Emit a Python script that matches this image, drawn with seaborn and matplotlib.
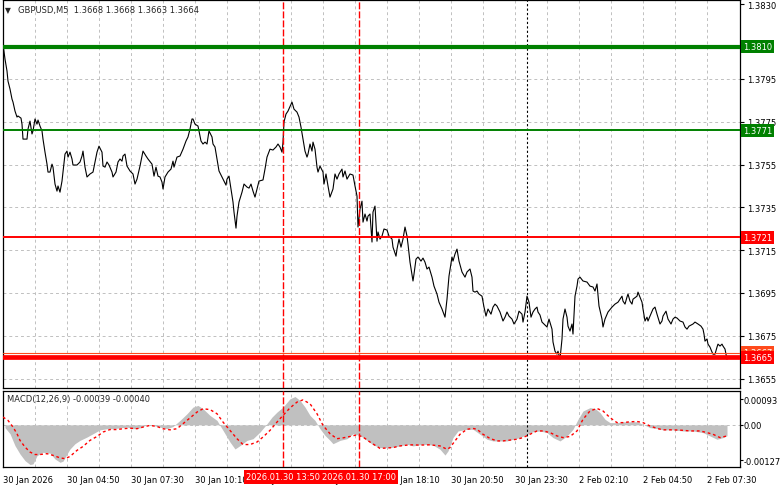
import matplotlib
matplotlib.use("Agg")
import matplotlib.pyplot as plt
import matplotlib.transforms as mtransforms
import seaborn as sns

# GBPUSD M5 closes, x = bar number counted from the first bar (30 Jan 02:10)
bar = [0, 1, 2, 2.5, 3.5, 4.5, 5, 6, 7, 7.5, 9, 9.5, 10, 12, 12.5, 13.5, 14.5, 15, 16, 17,
       17.5, 18.5, 19.5, 20, 21, 22, 22.5, 23.5, 24.5, 25, 26, 27, 27.5, 28.5, 29.5, 30, 31, 32,
       32.5, 33.5, 34.5, 35, 37, 38.5, 39.5, 40, 41, 42, 43.5, 45, 46, 47, 48, 49.5, 50, 51, 52,
       53, 54.5, 55, 56.5, 57.5, 58.5, 59.5, 60, 61, 62, 63.5, 65, 66, 67, 68.5, 70, 71.5, 72.5,
       74.5, 75.5, 76.5, 77.5, 78.5, 79.5, 80, 81, 82.5, 84, 85, 85.5, 87, 88.5, 90, 91.5, 92.5,
       93.5, 94.5, 95, 96, 97.5, 99, 100, 101, 102, 103, 104.5, 105, 106, 107, 108, 109.5, 110.5,
       111.5, 112, 113, 114, 115, 115.5, 116.5, 117, 118, 119.5, 120.5, 122, 123, 124, 125, 126,
       127, 128, 130, 131, 132, 133.5, 135, 136.5, 137.5, 138.5, 139.5, 140, 140.5, 141.5, 142.5,
       144.5, 145.5, 147, 148, 149, 150, 151, 152, 152.5, 153.5, 154.5, 155, 156, 157, 157.5,
       158.5, 160, 160.5, 161.5, 162.5, 163.5, 165, 166, 167, 168, 169.5, 170, 171, 172, 173.5,
       175, 176, 177, 177.5, 178.5, 179.5, 180, 181, 182, 182.5, 183.5, 184.5, 185, 186, 187,
       187.5, 188.5, 189.5, 190.5, 192, 193, 194.5, 195, 196.5, 197, 198, 199, 200, 201, 202,
       202.5, 203.5, 205, 205.5, 206.5, 207.5, 209, 210, 211, 212, 213, 214.5, 215.5, 217, 218,
       219.5, 221, 222, 223, 224.5, 225, 226, 227, 228, 229.5, 231, 232, 233.5, 234.5, 235, 236,
       237, 238, 239.5, 240.5, 241.5, 242.5, 244, 245, 246, 247, 248.5, 250, 251, 252, 253,
       254.5, 255.5, 257, 258, 259.5, 260, 261, 262, 263, 264, 265, 266, 267, 267.5, 268.5,
       269.5, 271, 272, 273, 274.5, 275, 276, 277, 277.5, 278.5, 279.5, 280, 281, 282, 282.5,
       283.5, 284.5, 285, 286, 287, 287.5, 288.5, 290, 292, 293.5, 295, 296, 297, 298, 299.5,
       300, 301, 302.5, 304.5, 306, 307.5, 308.5, 309.5, 310, 311, 312, 312.5, 313.5, 314.5,
       315, 317, 317.5, 318.5, 319.5, 320, 321, 322, 322.5, 323.5, 325, 326, 327, 328.5, 329.5,
       330, 331.5, 332.5, 334, 335, 336, 337, 338.5, 340, 341, 342, 343, 345, 346, 347.5, 349,
       350, 350.5, 351, 352, 352.5, 353.5, 354.5, 355, 356, 357, 357.5, 358.5, 359.5, 360, 361,
       362]
close = [1.38113, 1.38043, 1.37987, 1.37940, 1.37903, 1.37856, 1.37842, 1.37800, 1.37772, 1.37777,
         1.37767, 1.37739, 1.37669, 1.37669, 1.37716, 1.37753, 1.37693, 1.37707, 1.37763, 1.37739,
         1.37758, 1.37730, 1.37707, 1.37669, 1.37608, 1.37552, 1.37515, 1.37515, 1.37552, 1.37538,
         1.37459, 1.37426, 1.37450, 1.37421, 1.37473, 1.37515, 1.37599, 1.37613, 1.37585, 1.37608,
         1.37576, 1.37548, 1.37548, 1.37562, 1.37590, 1.37613, 1.37538, 1.37492, 1.37506, 1.37515,
         1.37562, 1.37608, 1.37636, 1.37608, 1.37543, 1.37538, 1.37562, 1.37548, 1.37515, 1.37492,
         1.37515, 1.37562, 1.37576, 1.37566, 1.37590, 1.37599, 1.37543, 1.37520, 1.37506, 1.37459,
         1.37482, 1.37543, 1.37613, 1.37590, 1.37576, 1.37552, 1.37496, 1.37538, 1.37496, 1.37492,
         1.37468, 1.37436, 1.37492, 1.37515, 1.37529, 1.37566, 1.37538, 1.37585, 1.37590, 1.37622,
         1.37660, 1.37679, 1.37716, 1.37763, 1.37763, 1.37739, 1.37730, 1.37660, 1.37646, 1.37655,
         1.37646, 1.37707, 1.37679, 1.37646, 1.37632, 1.37576, 1.37520, 1.37492, 1.37473, 1.37454,
         1.37482, 1.37496, 1.37436, 1.37375, 1.37328, 1.37253, 1.37309, 1.37375, 1.37421, 1.37459,
         1.37445, 1.37440, 1.37459, 1.37426, 1.37398, 1.37436, 1.37473, 1.37478, 1.37529, 1.37585,
         1.37622, 1.37618, 1.37632, 1.37646, 1.37632, 1.37608, 1.37655, 1.37749, 1.37786, 1.37800,
         1.37842, 1.37809, 1.37795, 1.37772, 1.37725, 1.37669, 1.37613, 1.37585, 1.37599, 1.37646,
         1.37613, 1.37655, 1.37622, 1.37538, 1.37515, 1.37543, 1.37515, 1.37459, 1.37506, 1.37450,
         1.37398, 1.37436, 1.37506, 1.37482, 1.37506, 1.37529, 1.37492, 1.37520, 1.37482, 1.37506,
         1.37501, 1.37450, 1.37403, 1.37258, 1.37342, 1.37379, 1.37281, 1.37319, 1.37286, 1.37309,
         1.37319, 1.37188, 1.37328, 1.37356, 1.37192, 1.37235, 1.37202, 1.37216, 1.37249, 1.37244,
         1.37216, 1.37202, 1.37164, 1.37122, 1.37155, 1.37202, 1.37164, 1.37202, 1.37258, 1.37216,
         1.37178, 1.37094, 1.37006, 1.37038, 1.37108, 1.37118, 1.37099, 1.37113, 1.37094, 1.37062,
         1.37071, 1.37024, 1.36982, 1.36945, 1.36907, 1.36875, 1.36837, 1.36921, 1.37029, 1.37118,
         1.37099, 1.37132, 1.37155, 1.37099, 1.37048, 1.37024, 1.37048, 1.37062, 1.37024, 1.36959,
         1.36954, 1.36959, 1.36945, 1.36935, 1.36884, 1.36842, 1.36875, 1.36851, 1.36884, 1.36898,
         1.36889, 1.36861, 1.36819, 1.36837, 1.36861, 1.36842, 1.36828, 1.36805, 1.36828, 1.36865,
         1.36851, 1.36814, 1.36861, 1.36935, 1.36907, 1.36837, 1.36861, 1.36875, 1.36884, 1.36861,
         1.36847, 1.36814, 1.36800, 1.36791, 1.36828, 1.36781, 1.36721, 1.36678, 1.36664, 1.36678,
         1.36641, 1.36735, 1.36828, 1.36875, 1.36837, 1.36795, 1.36772, 1.36805, 1.36758, 1.36935,
         1.36982, 1.37015, 1.37024, 1.37006, 1.37001, 1.36982, 1.36978, 1.36959, 1.36992, 1.36889,
         1.36828, 1.36791, 1.36828, 1.36861, 1.36884, 1.36898, 1.36907, 1.36921, 1.36935, 1.36912,
         1.36898, 1.36931, 1.36945, 1.36912, 1.36898, 1.36921, 1.36935, 1.36954, 1.36931, 1.36907,
         1.36875, 1.36819, 1.36837, 1.36819, 1.36842, 1.36875, 1.36884, 1.36851, 1.36805, 1.36819,
         1.36842, 1.36865, 1.36828, 1.36805, 1.36828, 1.36837, 1.36833, 1.36819, 1.36814, 1.36791,
         1.36781, 1.36795, 1.36805, 1.36814, 1.36805, 1.36795, 1.36781, 1.36758, 1.36725, 1.36735,
         1.36711, 1.36697, 1.36674, 1.36664, 1.36664, 1.36697, 1.36711, 1.36702, 1.36711, 1.36702,
         1.36688, 1.36640]

# MACD(12,26,9): main line (grey histogram) and signal (red dotted)
macd_bar = [1, 3.5, 6, 8.5, 11, 13.5, 15, 17, 20, 23.5, 26, 28.5, 30, 32, 33.5, 36, 38.5, 42, 45,
            48.5, 52, 55, 58.5, 62, 65, 68.5, 72, 75, 78.5, 82, 85, 88.5, 92, 95, 97.5, 100,
            103.5, 107, 108.5, 111, 113.5, 116, 118.5, 122, 125, 128.5, 132, 134.5, 137, 140,
            143.5, 146, 148.5, 151, 153.5, 156, 158.5, 161, 163.5, 165, 168.5, 172, 175, 178.5,
            182, 185, 188.5, 193.5, 198.5, 202, 205, 210, 215, 218.5, 221, 222.5, 225, 227.5, 232,
            235, 238.5, 242, 245, 248.5, 252, 255, 258.5, 262, 265, 268.5, 272, 275, 278.5, 282,
            285, 287.5, 290, 293.5, 296, 298.5, 301, 303.5, 307, 310, 313.5, 317, 320, 323.5, 327,
            330, 335, 340, 345, 350, 353.5, 357, 360, 362]
macd_main = [-0.00010, -0.00032, -0.00075, -0.00105, -0.00129, -0.00143, -0.00141, -0.00111,
             -0.00099, -0.00102, -0.00123, -0.00135, -0.00131, -0.00105, -0.00087, -0.00068,
             -0.00056, -0.00044, -0.00032, -0.00018, -0.00014, -0.00014, -0.00011, -0.00008,
             -0.00014, -0.00011, 0.00001, -0.00002, -0.00008, -0.00014, -0.00006, 0.00016,
             0.00040, 0.00064, 0.00070, 0.00058, 0.00034, 0.00016, -0.00002, -0.00032, -0.00062,
             -0.00087, -0.00075, -0.00056, -0.00050, -0.00026, 0.00004, 0.00028, 0.00046, 0.00064,
             0.00094, 0.00102, 0.00088, 0.00064, 0.00034, 0.00016, -0.00014, -0.00038, -0.00056,
             -0.00068, -0.00056, -0.00050, -0.00032, -0.00038, -0.00056, -0.00072, -0.00082,
             -0.00082, -0.00076, -0.00070, -0.00076, -0.00070, -0.00073, -0.00088, -0.00109,
             -0.00094, -0.00046, -0.00022, -0.00016, -0.00016, -0.00034, -0.00052, -0.00058,
             -0.00058, -0.00058, -0.00052, -0.00046, -0.00034, -0.00025, -0.00022, -0.00028,
             -0.00046, -0.00058, -0.00040, -0.00016, 0.00020, 0.00050, 0.00062, 0.00059, 0.00044,
             0.00020, 0.00008, 0.00008, 0.00011, 0.00011, 0.00011, 0.00002, -0.00010, -0.00013,
             -0.00018, -0.00018, -0.00022, -0.00022, -0.00028, -0.00040, -0.00052, -0.00046,
             -0.00039]
signal_bar = [0, 2.5, 5, 7, 8.5, 11, 13.5, 16, 18.5, 22, 25, 28.5, 31, 33.5, 37, 40, 43.5, 47, 50,
              53.5, 57, 60, 63.5, 67, 70, 73.5, 77, 80, 83.5, 87, 90, 93.5, 97, 100, 103.5, 107,
              110, 113.5, 117, 120, 123.5, 127, 130, 133.5, 137, 140, 143.5, 147, 150, 153.5, 157,
              160, 163.5, 167, 170, 173.5, 177, 180, 183.5, 188.5, 195, 198.5, 203.5, 208.5, 213.5,
              218.5, 222, 223.5, 226, 228.5, 232, 235, 237, 240, 243.5, 247, 250, 253.5, 257, 260,
              263.5, 267, 270, 273.5, 277, 280, 283.5, 287, 290, 293.5, 297, 300, 303.5, 307, 310,
              313.5, 317, 320, 323.5, 327, 330, 333.5, 338.5, 343.5, 348.5, 352, 355, 358.5, 362]
macd_signal = [0.00028, 0.00016, -0.00008, -0.00032, -0.00056, -0.00080, -0.00098, -0.00107,
               -0.00107, -0.00104, -0.00110, -0.00119, -0.00122, -0.00114, -0.00092, -0.00078,
               -0.00056, -0.00042, -0.00026, -0.00017, -0.00017, -0.00014, -0.00012, -0.00014,
               -0.00008, -0.00002, -0.00006, -0.00014, -0.00018, -0.00014, 0.00004, 0.00025,
               0.00046, 0.00058, 0.00055, 0.00040, 0.00010, -0.00020, -0.00050, -0.00071,
               -0.00071, -0.00062, -0.00044, -0.00020, 0.00010, 0.00034, 0.00061, 0.00082,
               0.00090, 0.00076, 0.00040, -0.00002, -0.00032, -0.00050, -0.00047, -0.00042,
               -0.00036, -0.00044, -0.00062, -0.00085, -0.00082, -0.00076, -0.00072, -0.00073,
               -0.00072, -0.00076, -0.00088, -0.00082, -0.00058, -0.00034, -0.00016, -0.00013,
               -0.00016, -0.00034, -0.00049, -0.00058, -0.00058, -0.00055, -0.00052, -0.00046,
               -0.00034, -0.00022, -0.00022, -0.00028, -0.00040, -0.00046, -0.00042, -0.00022,
               0.00020, 0.00050, 0.00059, 0.00050, 0.00026, 0.00008, 0.00008, 0.00011, 0.00012,
               0.00008, -0.00004, -0.00013, -0.00018, -0.00018, -0.00019, -0.00022, -0.00022,
               -0.00028, -0.00034, -0.00046, -0.00040]

price_ticks = [1.3830, 1.3795, 1.3775, 1.3755, 1.3735, 1.3715, 1.3695, 1.3675, 1.3655]
price_grid = [1.3795, 1.3775, 1.3755, 1.3735, 1.3715, 1.3695, 1.3675, 1.3655]
levels = [1.3810, 1.3771, 1.3721, 1.3665]
level_colors = ['#008000', '#008000', '#ff0000', '#ff0000']
level_widths = [3.0, 1.4, 1.4, 3.4]
bid_price = 1.3667

time_ticks = [0, 32, 64, 96, 128, 160, 192, 224, 256, 288, 320, 352]
time_labels = ['30 Jan 2026', '30 Jan 04:50', '30 Jan 07:30', '30 Jan 10:10', '30 Jan 12:50',
               '30 Jan 15:30', '30 Jan 18:10', '30 Jan 20:50', '30 Jan 23:30', '2 Feb 02:10',
               '2 Feb 04:50', '2 Feb 07:30']
grid_bars = list(range(16, 368, 16))
marker_bars = [140, 178]
marker_labels = ['2026.01.30 13:50', '2026.01.30 17:00']
separator_bar = 262

macd_ticks = [0.00093, 0.0, -0.00127]
macd_tick_labels = ['0.00093', '0.00', '-0.00127']

sns.set_style('white')
plt.rcParams['font.family'] = ['DejaVu Sans']
plt.rcParams['font.size'] = 6

W, H = 781, 489
fig = plt.figure(figsize=(W / 100, H / 100), dpi=100)
ax = fig.add_axes([3 / W, 1 - 389 / H, 737 / W, 388 / H])
ax2 = fig.add_axes([3 / W, 1 - 468 / H, 737 / W, 76 / H])

grid_kw = dict(color='#c0c0c0', lw=0.7, ls=(0, (3, 3)), zorder=0)
for a in (ax, ax2):
    for gb in grid_bars:
        a.axvline(gb, **grid_kw)
    for mb in marker_bars:
        a.axvline(mb, color='red', lw=1.0, ls=(0, (5, 1.5)), zorder=4)
    a.axvline(separator_bar, color='black', lw=0.8, ls=(0, (2, 2)), zorder=4)
    a.set_xlim(0, 368.5)
    for s in a.spines.values():
        s.set_color('black')
        s.set_linewidth(0.9)
for pg in price_grid:
    ax.axhline(pg, **grid_kw)
ax2.axhline(0, **grid_kw)

# price
sns.lineplot(x=bar, y=close, ax=ax, color='black', linewidth=0.8,
             estimator=None, sort=False, zorder=3)
for lv, c, w in zip(levels, level_colors, level_widths):
    ax.axhline(lv, color=c, lw=w, zorder=5)
ax.axhline(bid_price, color='#ff4a1c', lw=0.8, zorder=5)

ax.set_ylim(1.36506, 1.38319)
ax.yaxis.tick_right()
ax.set_yticks(price_ticks)
ax.set_yticklabels([f'{p:.4f}' for p in price_ticks])
ax.tick_params(axis='y', length=3, width=0.8, pad=2, labelsize=6, colors='black')
ax.set_xticks([])
ax.set_xlabel('')
ax.set_ylabel('')

# level boxes on the price scale
box_tr = mtransforms.blended_transform_factory(fig.transFigure, ax.transData)
ax.text(743 / W, bid_price + 0.00003, f'{bid_price:.4f}', transform=box_tr, ha='left', va='center',
        color='white', fontsize=6, zorder=10, clip_on=False,
        bbox=dict(boxstyle='square,pad=0.25', fc='#ff4a1c', ec='none'))
for lv, c in zip(levels, level_colors):
    ax.text(743 / W, lv, f'{lv:.4f}', transform=box_tr, ha='left', va='center',
            color='white', fontsize=6, zorder=11, clip_on=False,
            bbox=dict(boxstyle='square,pad=0.25', fc=c, ec='none'))

fig.text(8 / W, 1 - 11 / H, '\u25bc', fontsize=5.5, ha='center', va='center')
fig.text(18 / W, 1 - 11 / H, 'GBPUSD,M5  1.3668 1.3668 1.3663 1.3664', fontsize=6,
         ha='left', va='center')

# MACD
ax2.fill_between(macd_bar, 0, macd_main, color='#c0c0c0', lw=0, zorder=1)
sns.lineplot(x=signal_bar, y=macd_signal, ax=ax2, color='red', linewidth=1.0,
             linestyle=(0, (2, 2)), estimator=None, sort=False, zorder=3)
ax2.set_ylim(-0.00152, 0.00122)
ax2.yaxis.tick_right()
ax2.set_yticks(macd_ticks)
ax2.set_yticklabels(macd_tick_labels)
ax2.tick_params(axis='y', length=2, width=0.8, pad=0.8, labelsize=6, colors='black')
ax2.set_xticks(time_ticks)
ax2.set_xticklabels(time_labels)
for lbl in ax2.get_xticklabels():
    lbl.set_horizontalalignment('left')
ax2.tick_params(axis='x', length=3, width=0.8, pad=2.5, labelsize=6, colors='black')
ax2.set_xlabel('')
ax2.set_ylabel('')
fig.text(7 / W, 1 - 400 / H, 'MACD(12,26,9) -0.00039 -0.00040', fontsize=6,
         ha='left', va='center')

mk_tr = mtransforms.blended_transform_factory(ax2.transData, fig.transFigure)
for mb, ml in zip(marker_bars, marker_labels):
    ax2.text(mb, 1 - 478 / H, ml, transform=mk_tr, ha='center', va='center', color='white',
             fontsize=6, zorder=12, clip_on=False,
             bbox=dict(boxstyle='square,pad=0.25', fc='#ff0000', ec='none'))

fig.savefig('out.png', dpi=100)
